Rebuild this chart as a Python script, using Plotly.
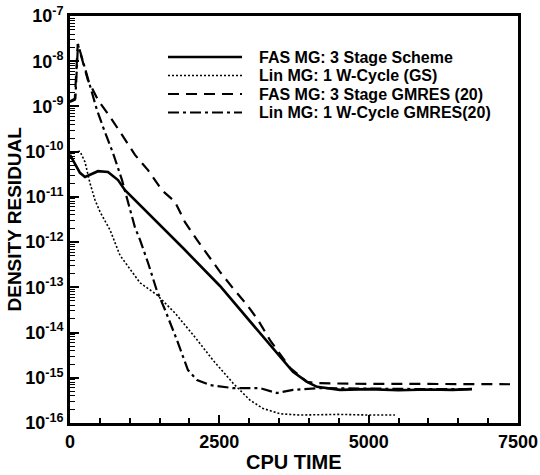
import plotly.graph_objects as go

# ---------------- data ----------------
fas_x = [0, 167, 251, 469, 636, 804, 921, 1205, 1590, 1892, 2511, 3315, 3733, 3968, 4135, 4520, 5000, 5500, 6000, 6400, 6730]
fas_y = [8.5e-11, 3.4e-11, 2.75e-11, 3.7e-11, 3.55e-11, 2.35e-11, 1.4e-11, 6.0e-12, 1.86e-12, 7.4e-13, 1.07e-13,
         5.9e-15, 1.35e-15, 8.1e-16, 6.3e-16, 5.4e-16, 5.6e-16, 5.3e-16, 5.5e-16, 5.4e-16, 5.6e-16]

lin_x = [0, 33, 167, 251, 335, 419, 502, 670, 837, 1172, 1456, 1758, 2093, 2394, 2729, 3013, 3231, 3515, 3850, 4500, 5000, 5440]
lin_y = [1.0e-10, 9.8e-11, 1.02e-10, 5.9e-11, 2.0e-11, 8.5e-12, 4.7e-12, 1.86e-12, 5.1e-13, 1.26e-13, 6.8e-14, 2.7e-14,
         7.9e-15, 2.45e-15, 7.6e-16, 3.2e-16, 2.1e-16, 1.6e-16, 1.5e-16, 1.55e-16, 1.5e-16, 1.5e-16]

fasg_x = [0, 80, 130, 301, 469, 670, 871, 1088, 1306, 1540, 1758, 1925, 2126, 2310, 2511, 2729, 2963, 3147, 3348, 3683,
          3968, 4135, 5000, 6000, 7366]
fasg_y = [1.26e-9, 1.4e-9, 2.4e-8, 3.8e-9, 1.38e-9, 5.9e-10, 2.35e-10, 8.5e-11, 3.9e-11, 1.4e-11, 7.8e-12, 2.75e-12,
          1.12e-12, 5.1e-13, 2.2e-13, 9.5e-14, 4.1e-14, 1.9e-14, 6.8e-15, 1.66e-15, 8.1e-16, 7.6e-16, 7.3e-16,
          7.3e-16, 7.2e-16]

ling_x = [0, 90, 134, 301, 368, 452, 552, 720, 871, 1004, 1088, 1172, 1306, 1456, 1590, 1791, 1975, 2126, 2344, 2729,
          3181, 3465, 3733, 4185, 5000, 6000, 6730]
ling_y = [1.3e-9, 1.5e-9, 2.4e-8, 3.9e-9, 2.0e-9, 8.3e-10, 3.55e-10, 9.3e-11, 2.35e-11, 5.1e-12, 2.1e-12, 1.12e-12,
          3.5e-13, 8.3e-14, 3.2e-14, 6.8e-15, 1.48e-15, 8.9e-16, 6.9e-16, 5.9e-16, 5.9e-16, 4.6e-16, 5.4e-16, 5.9e-16,
          5.7e-16, 5.6e-16, 5.6e-16]

series_names = ["FAS MG: 3 Stage Scheme", "Lin MG: 1 W-Cycle (GS)",
                "FAS MG: 3 Stage GMRES (20)", "Lin MG: 1 W-Cycle GMRES(20)"]

x_ticks = [0, 2500, 5000, 7500]
y_exps = list(range(-16, -6))

# ---------------- styles ----------------
styles = [
    dict(color="black", width=2.6, dash="solid"),
    dict(color="black", width=1.6, dash="2px,2px"),
    dict(color="black", width=2.2, dash="11px,7px"),
    dict(color="black", width=2.2, dash="11px,4px,3px,4px"),
]

FONT = "Liberation Sans, Arial, sans-serif"

fig = go.Figure()
for (xs, ys), name, st in zip([(fas_x, fas_y), (lin_x, lin_y), (fasg_x, fasg_y), (ling_x, ling_y)],
                              series_names, styles):
    fig.add_trace(go.Scatter(x=xs, y=ys, mode="lines", name=name, line=st, showlegend=False))

# ---------------- custom legend (long line samples) ----------------
L, R, T, B = 70, 518, 16, 423
W, H = R - L, B - T
def px2paper(px, py):
    return (px - L) / W, (B - py) / H

legend_rows = [57, 75.5, 94, 112.5]
for name, st, py in zip(series_names, styles, legend_rows):
    x0, y0 = px2paper(168, py)
    x1, _ = px2paper(242, py)
    fig.add_shape(type="line", xref="paper", yref="paper", x0=x0, x1=x1, y0=y0, y1=y0,
                  line=dict(color="black", width=st["width"], dash=st["dash"]))
    tx, ty = px2paper(257, py)
    fig.add_annotation(xref="paper", yref="paper", x=tx, y=ty, text=name, showarrow=False,
                       xanchor="left", yanchor="middle",
                       font=dict(family=FONT, size=16, color="black", weight="bold"))

# axis titles
fig.add_annotation(xref="paper", yref="paper", x=px2paper(294, 0)[0], y=px2paper(0, 462)[1], text="CPU TIME",
                   showarrow=False, xanchor="center", yanchor="middle",
                   font=dict(family=FONT, size=20, color="black", weight="bold"))
fig.add_annotation(xref="paper", yref="paper", x=px2paper(14, 0)[0], y=0.5, text="DENSITY RESIDUAL",
                   showarrow=False, xanchor="center", yanchor="middle", textangle=-90,
                   font=dict(family=FONT, size=19, color="black", weight="bold"))

minor_y = [m * 10.0 ** e for e in range(-16, -7) for m in range(2, 10)]

fig.update_layout(
    width=540, height=475,
    margin=dict(l=L, r=540 - R, t=T, b=475 - B),
    paper_bgcolor="white", plot_bgcolor="white",
    font=dict(family=FONT, size=18, color="black", weight="bold"),
    xaxis=dict(range=[0, 7500], tickvals=x_ticks, ticktext=[str(v) for v in x_ticks],
               ticks="inside", ticklen=8, tickwidth=2, tickcolor="black",
               minor=dict(dtick=500, ticks="inside", ticklen=5, tickwidth=1.5, tickcolor="black"),
               showline=True, linewidth=3, linecolor="black", mirror=True,
               showgrid=False, zeroline=False, automargin=False,
               tickfont=dict(family=FONT, size=18, color="black", weight="bold")),
    yaxis=dict(type="log", range=[-16, -7],
               tickvals=[10.0 ** e for e in y_exps],
               ticktext=["10<sup>%d</sup>" % e for e in y_exps],
               ticks="inside", ticklen=9, tickwidth=2, tickcolor="black",
               minor=dict(tickvals=minor_y, ticks="inside", ticklen=5, tickwidth=1.3, tickcolor="black"),
               showline=True, linewidth=3, linecolor="black", mirror=True,
               showgrid=False, zeroline=False, automargin=False,
               tickfont=dict(family=FONT, size=18, color="black", weight="bold")),
)

fig.write_html("out.html")
